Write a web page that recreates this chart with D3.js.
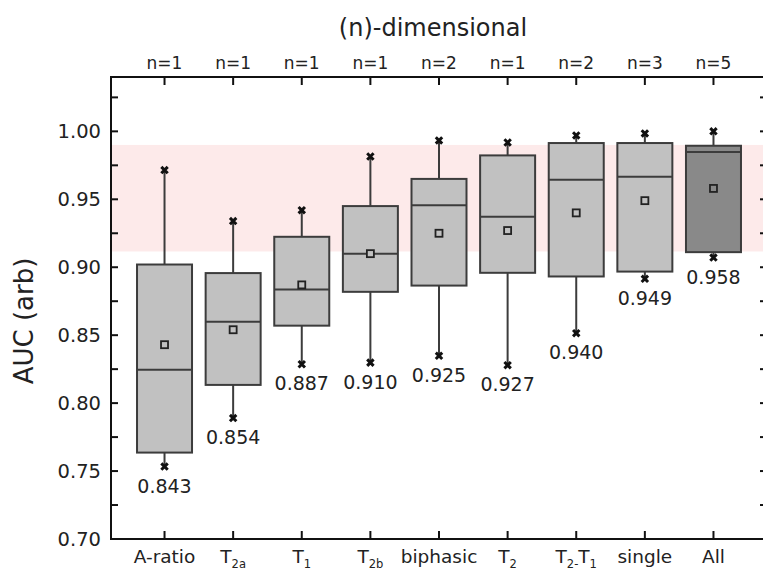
<!DOCTYPE html>
<html>
<head>
<meta charset="utf-8">
<script src="https://cdn.jsdelivr.net/npm/d3@7"></script>
<style>
html,body{margin:0;padding:0;background:#fff;}
svg text{font-family:"DejaVu Sans",Verdana,sans-serif;fill:#222;}
</style>
</head>
<body>
<svg id="chart" width="763" height="572"></svg>
<script>
const categories = ["A-ratio","T2a","T1","T2b","biphasic","T2","T2-T1","single","All"];
const nLabels = ["n=1","n=1","n=1","n=1","n=2","n=1","n=2","n=3","n=5"];
const whiskerHigh = [0.9715, 0.934, 0.942, 0.9815, 0.9933, 0.9918, 0.997, 0.9985, 1.000];
const q3 = [0.902, 0.8957, 0.9224, 0.945, 0.965, 0.9823, 0.9914, 0.9914, 0.9894];
const median = [0.8245, 0.8598, 0.8836, 0.9099, 0.9457, 0.9371, 0.9644, 0.9666, 0.9848];
const q1 = [0.7636, 0.8134, 0.857, 0.8819, 0.8865, 0.8959, 0.8932, 0.8968, 0.9111];
const whiskerLow = [0.7533, 0.789, 0.8286, 0.8298, 0.8348, 0.8279, 0.8515, 0.8915, 0.9071];
const mean = [0.843, 0.854, 0.887, 0.910, 0.925, 0.927, 0.940, 0.949, 0.958];
const highlight = [false,false,false,false,false,false,false,false,true];
const bandRange = [0.9116, 0.990];
const yTicks = [0.70,0.75,0.80,0.85,0.90,0.95,1.00];
const yDomain = [0.70, 1.04];
// label rendering: pairs of [main text, subscript]
const labelParts = {
  "A-ratio":[["A-ratio",""]],
  "T2a":[["T","2a"]],
  "T1":[["T","1"]],
  "T2b":[["T","2b"]],
  "biphasic":[["biphasic",""]],
  "T2":[["T","2"]],
  "T2-T1":[["T","2-"],["T","1"]],
  "single":[["single",""]],
  "All":[["All",""]]
};

const svg = d3.select("#chart");
const L = 111, R = 767, T = 77, B = 539;
const x = d3.scalePoint().domain(categories).range([L, R]).padding(0.78);
const y = d3.scaleLinear().domain(yDomain).range([B, T]);
const boxW = 55;
const dark = "#3c3c3c";

// pink band
svg.append("rect").attr("x", L).attr("width", R - L)
  .attr("y", y(bandRange[1])).attr("height", y(bandRange[0]) - y(bandRange[1]))
  .attr("fill", "#fdeaea");

// boxes
const data = categories.map((c,i)=>({c, i, wh:whiskerHigh[i], q3:q3[i], med:median[i], q1:q1[i], wl:whiskerLow[i], mean:mean[i], hl:highlight[i]}));
const g = svg.append("g");
data.forEach(d=>{
  const cx = x(d.c);
  g.append("line").attr("x1",cx).attr("x2",cx).attr("y1",y(d.wh)).attr("y2",y(d.q3))
    .attr("stroke",dark).attr("stroke-width",2);
  g.append("line").attr("x1",cx).attr("x2",cx).attr("y1",y(d.q1)).attr("y2",y(d.wl))
    .attr("stroke",dark).attr("stroke-width",2);
  g.append("rect").attr("x",cx-boxW/2).attr("width",boxW)
    .attr("y",y(d.q3)).attr("height",y(d.q1)-y(d.q3))
    .attr("fill", d.hl ? "#898989" : "#c1c1c1").attr("stroke",dark).attr("stroke-width",2);
  g.append("line").attr("x1",cx-boxW/2).attr("x2",cx+boxW/2).attr("y1",y(d.med)).attr("y2",y(d.med))
    .attr("stroke",dark).attr("stroke-width",2);
  // whisker end markers
  [d.wh, d.wl].forEach(v=>{
    const yy = y(v), s = 3.2;
    g.append("path").attr("d",`M${cx-s},${yy-s}L${cx+s},${yy+s}M${cx+s},${yy-s}L${cx-s},${yy+s}`)
      .attr("stroke","#111").attr("stroke-width",3).attr("fill","none");
  });
  // mean marker
  g.append("rect").attr("x",cx-3.5).attr("y",y(d.mean)-3.5).attr("width",7).attr("height",7)
    .attr("fill", d.hl ? "#898989" : "#c1c1c1").attr("stroke","#222").attr("stroke-width",1.8);
  // mean label
  g.append("text").attr("x",cx).attr("y",y(d.wl)+26).attr("text-anchor","middle")
    .attr("font-size",19).text(d.mean.toFixed(3));
});

// frame
svg.append("rect").attr("x",L).attr("y",T).attr("width",R-L).attr("height",B-T)
  .attr("fill","none").attr("stroke","#111").attr("stroke-width",2);

// y ticks (major + minor, inward, both sides)
const allY = d3.range(0.70, 1.0401, 0.025).map(v=>+v.toFixed(3));
allY.forEach(v=>{
  const yy = y(v);
  svg.append("line").attr("x1",L).attr("x2",L+7).attr("y1",yy).attr("y2",yy).attr("stroke","#111").attr("stroke-width",2);
  svg.append("line").attr("x1",R).attr("x2",R-7).attr("y1",yy).attr("y2",yy).attr("stroke","#111").attr("stroke-width",2);
});
yTicks.forEach(v=>{
  svg.append("text").attr("x",101).attr("y",y(v)).attr("dy","0.36em").attr("text-anchor","end")
    .attr("font-size",19.5).text(v.toFixed(2));
});

// x ticks top and bottom
categories.forEach((c,i)=>{
  const cx = x(c);
  svg.append("line").attr("x1",cx).attr("x2",cx).attr("y1",T).attr("y2",T+8).attr("stroke","#111").attr("stroke-width",2);
  svg.append("line").attr("x1",cx).attr("x2",cx).attr("y1",B).attr("y2",B-8).attr("stroke","#111").attr("stroke-width",2);
  svg.append("text").attr("x",cx).attr("y",69).attr("text-anchor","middle").attr("font-size",17).text(nLabels[i]);
  const t = svg.append("text").attr("x",cx).attr("y",563).attr("text-anchor","middle").attr("font-size",18.5);
  let shifted = false;
  labelParts[c].forEach(p=>{
    const m = t.append("tspan").text(p[0]);
    if (shifted) { m.attr("dy",-5); shifted = false; }
    if (p[1]) {
      t.append("tspan").attr("font-size",11.5).attr("dy",5).text(p[1]);
      shifted = true;
    }
  });
});

// titles
svg.append("text").attr("x",433).attr("y",36).attr("text-anchor","middle").attr("font-size",24).text("(n)-dimensional");
svg.append("text").attr("transform","translate(33,321) rotate(-90)").attr("text-anchor","middle")
  .attr("font-size",26).text("AUC (arb)");
</script>
</body>
</html>
